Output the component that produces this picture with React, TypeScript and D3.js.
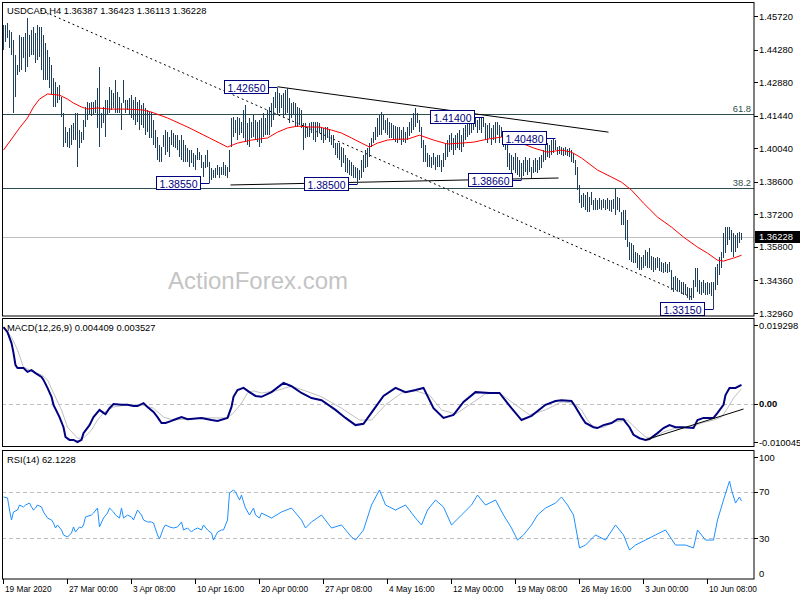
import React from "react";
import * as d3 from "d3";

// ---------- price bars (H4 highs / lows) ----------
const barHigh = [
1.4534,1.4534,1.4542,1.4512,1.4503,1.4469,1.4405,1.4362,1.4491,1.4482,
1.4482,1.4499,1.4564,1.4491,1.4512,1.4525,1.4499,1.4534,1.4525,1.4525,
1.4491,1.4456,1.4426,1.4396,1.4362,1.4306,1.4288,1.4267,1.4276,1.4224,
1.4155,1.4095,1.4073,1.4091,1.4104,1.4112,1.4155,1.4155,1.4082,1.4073,
1.4125,1.4181,1.4202,1.4198,1.4202,1.4202,1.4211,1.4263,1.4353,1.4155,
1.4181,1.4211,1.4211,1.4267,1.4254,1.4241,1.4297,1.4245,1.4224,1.4198,
1.4297,1.4211,1.4211,1.4220,1.4233,1.4211,1.4224,1.4202,1.4211,1.4190,
1.4198,1.4177,1.4168,1.4159,1.4159,1.4125,1.4082,1.4052,1.4018,1.4009,
1.4061,1.4082,1.4073,1.4052,1.4082,1.4069,1.4061,1.4061,1.4039,1.4061,
1.4039,1.4018,1.4005,1.3996,1.3996,1.3983,1.3975,1.4005,1.3987,1.3975,
1.3944,1.3975,1.3996,1.3944,1.3919,1.3910,1.3919,1.3932,1.3923,1.3923,
1.3944,1.3932,1.3923,1.3996,1.4134,1.4138,1.4125,1.4138,1.4134,1.4116,
1.4168,1.4190,1.4112,1.4134,1.4116,1.4147,1.4125,1.4116,1.4125,1.4134,
1.4155,1.4134,1.4168,1.4181,1.4198,1.4224,1.4245,1.4265,1.4241,1.4232,
1.4241,1.4254,1.4263,1.4220,1.4198,1.4202,1.4198,1.4181,1.4177,1.4168,
1.4112,1.4112,1.4095,1.4112,1.4116,1.4116,1.4116,1.4116,1.4112,1.4095,
1.4091,1.4095,1.4095,1.4082,1.4061,1.4061,1.4026,1.4026,1.4026,1.4009,
1.4005,1.3975,1.3962,1.3953,1.3944,1.3932,1.3923,1.3919,1.3910,1.3953,
1.3975,1.3996,1.4005,1.4026,1.4048,1.4073,1.4095,1.4134,1.4147,1.4159,
1.4147,1.4125,1.4134,1.4116,1.4112,1.4104,1.4099,1.4095,1.4095,1.4082,
1.4095,1.4073,1.4095,1.4116,1.4134,1.4155,1.4177,1.4155,1.4125,1.4095,
1.4039,1.4018,1.3983,1.3975,1.3966,1.3983,1.3966,1.3975,1.3975,1.3953,
1.3983,1.4026,1.4039,1.4061,1.4069,1.4048,1.4061,1.4069,1.4082,1.4061,
1.4091,1.4104,1.4116,1.4125,1.4138,1.4134,1.4138,1.4125,1.4134,1.4134,
1.4140,1.4112,1.4104,1.4112,1.4091,1.4104,1.4116,1.4116,1.4104,1.4095,
1.4069,1.4061,1.4052,1.3983,1.3975,1.3966,1.3983,1.3966,1.3953,1.3940,
1.3953,1.3966,1.3953,1.3962,1.3923,1.3953,1.3962,1.3953,1.3966,1.3975,
1.3996,1.4018,1.4026,1.4018,1.4039,1.4048,1.4039,1.4009,1.4013,1.4009,
1.4005,1.4009,1.4000,1.4005,1.3996,1.3983,1.3953,1.3923,1.3845,1.3802,
1.3811,1.3802,1.3815,1.3794,1.3815,1.3781,1.3790,1.3781,1.3790,1.3781,
1.3785,1.3781,1.3790,1.3781,1.3781,1.3785,1.3833,1.3794,1.3790,1.3729,
1.3738,1.3738,1.3695,1.3600,1.3596,1.3587,1.3557,1.3553,1.3544,1.3536,
1.3544,1.3566,1.3557,1.3575,1.3540,1.3536,1.3532,1.3536,1.3532,1.3514,
1.3510,1.3514,1.3506,1.3514,1.3480,1.3450,1.3454,1.3446,1.3437,1.3428,
1.3428,1.3420,1.3407,1.3403,1.3403,1.3437,1.3489,1.3489,1.3437,1.3428,
1.3437,1.3424,1.3428,1.3424,1.3428,1.3428,1.3493,1.3506,1.3536,1.3557,
1.3639,1.3665,1.3665,1.3665,1.3652,1.3639,1.3630,1.3639,1.3643,1.3642
];
const barLow = [
1.4426,1.4460,1.4478,1.4435,1.4405,1.4155,1.4224,1.4319,1.4331,1.4340,
1.4392,1.4331,1.4353,1.4396,1.4405,1.4405,1.4370,1.4383,1.4396,1.4340,
1.4297,1.4297,1.4297,1.4263,1.4233,1.4181,1.4181,1.4198,1.4211,1.4138,
1.4009,1.4026,1.4009,1.4005,1.4018,1.4039,1.4039,1.3923,1.4005,1.4026,
1.4039,1.4095,1.4125,1.4147,1.4142,1.4147,1.4155,1.4091,1.4009,1.4091,
1.4112,1.4052,1.4147,1.4155,1.4168,1.4177,1.4155,1.4155,1.4155,1.4082,
1.4198,1.4155,1.4168,1.4147,1.4134,1.4125,1.4104,1.4116,1.4082,1.4104,
1.4091,1.4061,1.4073,1.4048,1.4048,1.4018,1.4005,1.3953,1.3944,1.3944,
1.4009,1.3975,1.3987,1.3966,1.4018,1.4009,1.4005,1.3996,1.3966,1.3953,
1.3944,1.3944,1.3944,1.3923,1.3940,1.3923,1.3910,1.3953,1.3953,1.3919,
1.3880,1.3919,1.3923,1.3855,1.3867,1.3876,1.3876,1.3889,1.3876,1.3889,
1.3889,1.3884,1.3876,1.3901,1.4009,1.4052,1.4069,1.4039,1.4061,1.4069,
1.4048,1.4030,1.4018,1.4009,1.4048,1.4052,1.4039,1.4030,1.4009,1.4026,
1.4052,1.4061,1.4061,1.4061,1.4095,1.4125,1.4177,1.4147,1.4155,1.4177,
1.4134,1.4147,1.4155,1.4112,1.4134,1.4147,1.4095,1.4095,1.4104,1.4091,
1.3996,1.4048,1.4052,1.4052,1.4069,1.4039,1.4030,1.4052,1.4069,1.4039,
1.4026,1.4039,1.4048,1.4030,1.4018,1.4005,1.3975,1.3962,1.3953,1.3923,
1.3940,1.3901,1.3897,1.3889,1.3884,1.3876,1.3876,1.3850,1.3867,1.3876,
1.3901,1.3919,1.3923,1.3966,1.4009,1.4026,1.4039,1.4052,1.4061,1.4061,
1.4082,1.4069,1.4061,1.4048,1.4048,1.4039,1.4030,1.4026,1.4039,1.4018,
1.4030,1.4026,1.4039,1.4056,1.4069,1.4082,1.4095,1.4112,1.4073,1.4005,
1.3944,1.3944,1.3923,1.3923,1.3919,1.3932,1.3910,1.3923,1.3923,1.3901,
1.3923,1.3953,1.3966,1.3987,1.3996,1.3975,1.3996,1.4005,1.3996,1.3987,
1.4009,1.4039,1.4052,1.4061,1.4069,1.4082,1.4095,1.4069,1.4082,1.4069,
1.4095,1.4039,1.4026,1.4048,1.4018,1.4039,1.4026,1.4061,1.4026,1.4052,
1.4009,1.3996,1.3923,1.3910,1.3897,1.3910,1.3897,1.3889,1.3880,1.3866,
1.3884,1.3901,1.3889,1.3901,1.3876,1.3897,1.3901,1.3897,1.3910,1.3919,
1.3944,1.3953,1.3966,1.3962,1.3975,1.3983,1.3996,1.3975,1.3979,1.3975,
1.3970,1.3975,1.3970,1.3966,1.3944,1.3940,1.3889,1.3824,1.3768,1.3747,
1.3751,1.3738,1.3729,1.3729,1.3759,1.3738,1.3738,1.3738,1.3742,1.3738,
1.3747,1.3738,1.3742,1.3734,1.3729,1.3742,1.3716,1.3738,1.3729,1.3674,
1.3674,1.3609,1.3579,1.3523,1.3514,1.3510,1.3510,1.3489,1.3480,1.3480,
1.3489,1.3497,1.3489,1.3489,1.3480,1.3471,1.3480,1.3489,1.3476,1.3471,
1.3467,1.3471,1.3467,1.3471,1.3394,1.3385,1.3394,1.3390,1.3385,1.3377,
1.3372,1.3372,1.3360,1.3351,1.3351,1.3360,1.3407,1.3385,1.3377,1.3372,
1.3381,1.3372,1.3372,1.3377,1.3368,1.3315,1.3394,1.3415,1.3458,1.3489,
1.3532,1.3553,1.3587,1.3609,1.3557,1.3536,1.3557,1.3575,1.3596,1.3611
];

// ---------- moving average (red) ----------
const maIdx = [0,4,8,12,15,18,22,28,32,35,39,42,47,53,62,70,74,82,93,103,112,117,124,132,137,142,147,153,158,164,169,174,179,183,187,192,197,202,208,215,222,229,235,242,249,252,259,265,272,279,284,289,297,304,309,314,320,327,334,340,347,352,357,360,365,369];
const maVal = [1.3996,1.4043,1.4091,1.4134,1.4181,1.4215,1.4237,1.4232,1.4215,1.4198,1.4181,1.4172,1.4177,1.4172,1.4172,1.4168,1.4159,1.4134,1.4091,1.4048,1.4009,1.4026,1.4039,1.4048,1.4073,1.4091,1.4099,1.4095,1.4095,1.4082,1.4069,1.4048,1.4026,1.4009,1.4026,1.4039,1.4043,1.4043,1.4060,1.4039,1.4022,1.4026,1.4030,1.4043,1.4052,1.4052,1.4026,1.4005,1.3987,1.3996,1.3987,1.3962,1.3910,1.3880,1.3858,1.3824,1.3768,1.3708,1.3665,1.3622,1.3579,1.3553,1.3523,1.3519,1.3532,1.3544];

// ---------- MACD ----------
const macdIdx = [0,2,4,5,6,7,10,12,14,16,19,20,22,24,25,28,30,31,33,35,37,39,40,43,45,48,50,51,53,55,59,62,65,67,70,72,75,77,79,81,84,85,89,92,99,104,107,112,114,115,117,120,123,126,129,134,140,144,149,154,159,166,171,176,180,185,190,196,201,206,210,215,220,225,230,236,243,248,254,259,264,271,276,279,284,286,289,291,295,297,300,304,307,310,311,313,315,318,321,323,327,330,333,336,340,345,347,350,355,357,360,361,363,366,369];
const macdVal = [0.0181,0.0169,0.0143,0.0120,0.0091,0.0084,0.0084,0.0075,0.0079,0.0072,0.0063,0.0056,0.0037,0.0016,-0.0003,-0.0032,-0.0056,-0.0079,-0.0086,-0.0086,-0.0091,-0.0086,-0.0070,-0.0051,-0.0032,-0.0015,-0.0022,-0.0025,-0.0011,-0.0001,-0.0003,-0.0003,-0.0006,-0.0006,0.0001,-0.0008,-0.0020,-0.0032,-0.0046,-0.0046,-0.0041,-0.0039,-0.0032,-0.0037,-0.0034,-0.0039,-0.0041,-0.0034,-0.0008,0.0016,0.0032,0.0037,0.0027,0.0018,0.0016,0.0027,0.0049,0.0041,0.0025,0.0013,0.0008,-0.0015,-0.0034,-0.0051,-0.0048,-0.0015,0.0018,0.0037,0.0027,0.0032,0.0037,-0.0011,-0.0034,-0.0027,0.0004,0.0027,0.0025,0.0025,-0.0011,-0.0039,-0.0029,-0.0003,0.0006,0.0008,0.0006,-0.0008,-0.0032,-0.0046,-0.0056,-0.0058,-0.0051,-0.0046,-0.0037,-0.0037,-0.0044,-0.0056,-0.0074,-0.0082,-0.0086,-0.0084,-0.0070,-0.0058,-0.0051,-0.0056,-0.0056,-0.0058,-0.0039,-0.0034,-0.0034,-0.0022,-0.0003,0.0020,0.0037,0.0037,0.0044];
const sigIdx = [0,4,7,10,15,19,22,25,29,32,37,40,44,47,50,55,62,69,75,80,85,99,112,115,119,122,125,129,136,144,151,159,169,178,184,191,199,206,213,219,226,233,241,248,256,263,271,279,285,289,292,295,300,305,312,316,321,325,330,336,344,349,355,359,362,365,369];
const sigVal = [0.0181,0.0157,0.0127,0.0086,0.0075,0.0068,0.0056,0.0025,-0.0015,-0.0056,-0.0082,-0.0082,-0.0063,-0.0039,-0.0022,-0.0008,-0.0003,-0.0003,-0.0011,-0.0032,-0.0039,-0.0034,-0.0034,-0.0022,0.0001,0.0025,0.0030,0.0025,0.0030,0.0041,0.0030,0.0016,-0.0011,-0.0039,-0.0039,-0.0003,0.0025,0.0030,0.0020,-0.0015,-0.0025,-0.0003,0.0023,0.0025,-0.0003,-0.0027,-0.0015,0.0004,0.0001,-0.0015,-0.0039,-0.0056,-0.0056,-0.0044,-0.0039,-0.0058,-0.0079,-0.0082,-0.0067,-0.0058,-0.0056,-0.0046,-0.0039,-0.0032,-0.0011,0.0013,0.0035];
const macdTrendIdx = [321, 370];
const macdTrendVal = [-0.0086, -0.0013];

// ---------- RSI(14) ----------
const rsiIdx = [0,2,3,4,5,7,8,10,11,13,14,15,16,17,19,20,22,24,25,26,27,29,30,32,34,35,36,38,39,40,41,44,45,47,48,50,52,53,55,56,58,59,60,62,64,65,67,69,70,72,74,75,77,78,80,81,83,85,87,89,90,92,94,95,97,99,100,102,104,105,107,109,110,112,113,115,116,118,119,120,121,123,125,126,128,129,134,139,144,149,151,154,159,164,169,174,176,180,184,188,191,196,201,206,209,212,216,220,224,229,234,237,241,246,250,254,257,260,264,267,271,276,279,282,285,288,291,296,301,306,310,313,316,321,326,331,336,341,345,347,351,355,357,360,363,364,366,368,369];
const rsiVal = [65.5,64.7,54.3,45.7,52.6,54.3,58.6,56.9,58.6,60.3,56.9,54.3,56.0,58.6,56.9,52.6,47.4,45.7,43.1,38.8,41.4,37.1,32.8,31.0,34.5,39.7,35.3,39.7,38.8,41.4,48.3,50.0,51.7,56.0,39.7,47.4,51.7,56.0,52.6,50.0,47.4,56.0,47.4,50.0,48.3,45.7,54.3,50.0,45.7,44.0,44.0,43.1,32.8,29.3,38.8,41.4,39.7,38.8,39.7,44.0,37.1,38.8,35.3,37.1,38.8,37.1,41.4,37.1,34.5,28.4,35.3,37.1,37.1,45.7,69.0,71.6,69.8,62.9,67.2,61.2,56.0,50.0,56.0,50.0,47.4,51.7,47.4,52.6,56.0,45.7,38.8,44.0,50.0,38.8,41.4,31.0,28.4,37.1,58.6,71.6,58.6,54.3,58.6,47.4,41.4,54.3,62.9,56.9,41.4,50.0,58.6,67.2,58.6,62.9,50.0,38.8,28.4,32.8,41.4,50.0,56.0,60.3,65.5,58.6,50.0,21.6,24.1,32.8,28.4,41.4,32.8,19.8,24.1,28.4,32.8,37.1,24.1,24.1,21.6,37.1,28.4,28.4,45.7,62.9,79.3,71.6,60.3,65.5,62.1];
const rsiLevels = [70, 30];
const rsiTicks = [100, 70, 30, 0];

// ---------- axes / annotations ----------
const priceTicks = [1.4572, 1.4428, 1.4288, 1.4144, 1.4004, 1.3860, 1.3720, 1.3580, 1.3436, 1.3296];
const macdTicks = [0.019298, 0, -0.010045];
const macdTickText = ["0.019298", "0.00", "-0.010045"];
const timeLabels = ["19 Mar 2020", "27 Mar 00:00", "3 Apr 08:00", "10 Apr 16:00", "20 Apr 00:00", "27 Apr 08:00", "4 May 16:00", "12 May 00:00", "19 May 08:00", "26 May 16:00", "3 Jun 00:00", "10 Jun 08:00"];
const timeLabelBars = [0, 32, 64, 96, 128, 160, 192, 224, 256, 288, 320, 352];
const fibPrices = [1.4151, 1.3833];
const fibNames = ["61.8", "38.2"];
const lastPrice = 1.36228;
const swingText = ["1.42650", "1.41400", "1.40480", "1.38660", "1.38550", "1.38500", "1.33150"];
const swingPrice = [1.4265, 1.4140, 1.4048, 1.3866, 1.3855, 1.3850, 1.3315];
const swingBar = [137, 240, 276, 259, 103, 177, 355];
const dotLineBars = [18.5, 345];
const dotLinePrices = [1.4598, 1.3360];
const upperLineBars = [137, 302.5];
const upperLinePrices = [1.4268, 1.4073];
const lowerLineBars = [113.5, 277.5];
const lowerLinePrices = [1.3846, 1.3876];

const FONT = "'Liberation Sans', Arial, sans-serif";
const AX = 754;

export default function App() {
  const x = d3.scaleLinear().domain([0, 369]).range([3.5, 741.5]);
  const yP = d3.scaleLinear().domain([1.3296, 1.4572]).range([313, 16]);
  const yM = d3.scaleLinear().domain([-0.010045, 0.019298]).range([446, 322]);
  const yR = d3.scaleLinear().domain([0, 100]).range([573, 457]);

  const bars = barHigh.map((h, i) => `M${x(i)},${yP(h).toFixed(1)}V${yP(barLow[i]).toFixed(1)}`).join("");
  const lineOf = (idx: number[], vals: number[], ys: (v: number) => number) =>
    d3.line<number>().x((_, k) => x(idx[k])).y((v) => ys(v))(vals) || "";

  const maPath = lineOf(maIdx, maVal, yP);
  const macdPath = lineOf(macdIdx, macdVal, yM);
  const sigPath = lineOf(sigIdx, sigVal, yM);
  const rsiPath = lineOf(rsiIdx, rsiVal, yR);
  const macdTrend = lineOf(macdTrendIdx, macdTrendVal, yM);
  const dotPath = lineOf(dotLineBars, dotLinePrices, yP);
  const upPath = lineOf(upperLineBars, upperLinePrices, yP);
  const lowPath = lineOf(lowerLineBars, lowerLinePrices, yP);

  const txt = { fontFamily: FONT, fontSize: 9.4 } as const;

  return (
    <svg width={800} height={600} style={{ position: "absolute", left: 0, top: 0, background: "#fff" }}>
      <rect x={0} y={0} width={800} height={600} fill="#fff" />
      <defs>
        <clipPath id="cmain"><rect x={2} y={2} width={AX - 2} height={314} /></clipPath>
        <clipPath id="cmacd"><rect x={2} y={318} width={AX - 2} height={129} /></clipPath>
        <clipPath id="crsi"><rect x={2} y={450} width={AX - 2} height={129} /></clipPath>
      </defs>

      {/* ---------- main panel ---------- */}
      <g clipPath="url(#cmain)">
        <text x={168} y={289} fontFamily={FONT} fontSize={24} fill="#c4c4c4">ActionForex.com</text>
        {fibPrices.map((p, k) => (
          <g key={"f" + k}>
            <line x1={2} x2={AX} y1={Math.round(yP(p)) + 0.5} y2={Math.round(yP(p)) + 0.5} stroke="#2f4f4f" />
            <text x={751} y={Math.round(yP(p)) - 2} textAnchor="end" {...txt} fill="#2f4f4f">{fibNames[k]}</text>
          </g>
        ))}
        <line x1={2} x2={AX} y1={Math.round(yP(lastPrice)) + 0.5} y2={Math.round(yP(lastPrice)) + 0.5} stroke="#c0c0c0" />
        <path d={dotPath} stroke="#000" strokeWidth={1} strokeDasharray="2,3" fill="none" />
        <path d={upPath} stroke="#000" strokeWidth={1} fill="none" />
        <path d={lowPath} stroke="#000" strokeWidth={1} fill="none" />
        <path d={bars} stroke="#1d3f5c" strokeWidth={1} fill="none" shapeRendering="crispEdges" />
        <path d={maPath} stroke="#ff0000" strokeWidth={1} fill="none" />
        {swingText.map((t, k) => {
          const bx = x(swingBar[k]);
          const by = Math.round(yP(swingPrice[k])) + 0.5;
          const right = Math.round(bx - 10) + 0.5;
          return (
            <g key={"s" + k}>
              <line x1={right} x2={bx} y1={by} y2={by} stroke="#000080" />
              <rect x={right - 44} y={by - 7} width={44} height={13} fill="#fff" stroke="#000080" />
              <text x={right - 22} y={by + 4} textAnchor="middle" fontFamily={FONT} fontSize={10.5} fill="#000080">{t}</text>
            </g>
          );
        })}
        <text x={7} y={14} {...txt} fill="#000">USDCAD,H4  1.36387 1.36423 1.36113 1.36228</text>
      </g>
      <rect x={2.5} y={2.5} width={AX - 2.5} height={313.5} fill="none" stroke="#000" />

      {/* price axis */}
      {priceTicks.map((p) => (
        <g key={"p" + p}>
          <line x1={AX} x2={AX + 4} y1={Math.round(yP(p)) + 0.5} y2={Math.round(yP(p)) + 0.5} stroke="#000" />
          <text x={759} y={yP(p) + 3.5} {...txt} fill="#000">{p.toFixed(5)}</text>
        </g>
      ))}
      <rect x={755} y={Math.round(yP(lastPrice)) - 6} width={45} height={12} fill="#000" />
      <text x={759} y={yP(lastPrice) + 3.5} {...txt} fill="#fff">{lastPrice.toFixed(5)}</text>

      {/* ---------- MACD panel ---------- */}
      <g clipPath="url(#cmacd)">
        <line x1={2} x2={AX} y1={Math.round(yM(0)) + 0.5} y2={Math.round(yM(0)) + 0.5} stroke="#c0c0c0" strokeDasharray="4,3" />
        <path d={sigPath} stroke="#c0c0c0" strokeWidth={1} fill="none" />
        <path d={macdPath} stroke="#000080" strokeWidth={2} fill="none" />
        <path d={macdTrend} stroke="#000" strokeWidth={1} fill="none" />
        <text x={7} y={331} {...txt} fill="#000">MACD(12,26,9) 0.004409 0.003527</text>
      </g>
      <rect x={2.5} y={318.5} width={AX - 2.5} height={128} fill="none" stroke="#000" />
      {macdTicks.map((v, k) => {
        const ty = k === 0 ? yM(v) + 3 : k === 2 ? yM(v) - 4 : yM(v);
        return (
          <g key={"m" + k}>
            <line x1={AX} x2={AX + 4} y1={Math.round(ty) + 0.5} y2={Math.round(ty) + 0.5} stroke="#000" />
            <text x={759} y={ty + 3.5} {...txt} fontWeight={k === 1 ? "bold" : "normal"} fill="#000">{macdTickText[k]}</text>
          </g>
        );
      })}

      {/* ---------- RSI panel ---------- */}
      <g clipPath="url(#crsi)">
        {rsiLevels.map((v) => (
          <line key={"r" + v} x1={2} x2={AX} y1={Math.round(yR(v)) + 0.5} y2={Math.round(yR(v)) + 0.5} stroke="#c0c0c0" strokeDasharray="4,3" />
        ))}
        <path d={rsiPath} stroke="#1e90ff" strokeWidth={1} fill="none" />
        <text x={7} y={463} {...txt} fill="#000">RSI(14) 62.1228</text>
      </g>
      <rect x={2.5} y={450.5} width={AX - 2.5} height={128.5} fill="none" stroke="#000" />
      {rsiTicks.map((v) => (
        <g key={"rt" + v}>
          {v !== 0 && <line x1={AX} x2={AX + 4} y1={Math.round(yR(v)) + 0.5} y2={Math.round(yR(v)) + 0.5} stroke="#000" />}
          <text x={759} y={yR(v) + 3.5} {...txt} fill="#000">{v}</text>
        </g>
      ))}

      {/* ---------- time axis ---------- */}
      {timeLabels.map((t, k) => {
        const tx = Math.round(x(timeLabelBars[k])) - 0.5;
        return (
          <g key={"t" + k}>
            <line x1={tx} x2={tx} y1={579} y2={584} stroke="#000" />
            <text x={tx + 1.5} y={592} fontFamily={FONT} fontSize={8.3} fill="#000">{t}</text>
          </g>
        );
      })}
    </svg>
  );
}
